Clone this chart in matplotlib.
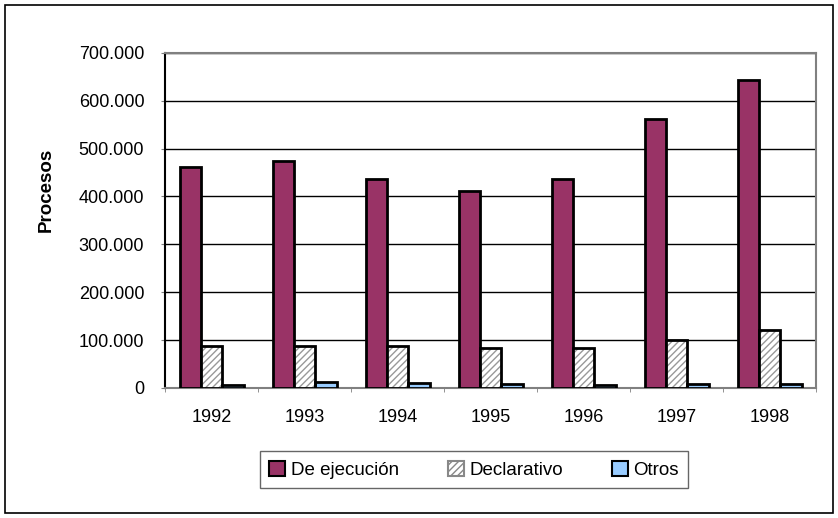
import matplotlib.pyplot as plt
import numpy as np
from matplotlib.patches import Patch, Rectangle
from matplotlib.ticker import FuncFormatter, MultipleLocator

plt.rcParams['font.family'] = ['Liberation Sans', 'DejaVu Sans']

# Datos
anios = ['1992', '1993', '1994', '1995', '1996', '1997', '1998']
de_ejecucion = [461000, 475000, 437000, 412000, 437000, 562000, 644000]
declarativo = [88000, 88000, 88000, 84000, 83000, 101000, 121000]
otros = [6000, 12000, 10000, 9000, 6000, 9000, 9000]

granate = '#993366'
celeste = '#99CCFF'

fig = plt.figure(figsize=(8.38, 5.18), dpi=100)
ax = fig.add_axes([0.197, 0.251, 0.777, 0.647])

x = np.arange(len(anios))
w = 0.23

ax.bar(x - w, de_ejecucion, w, color=granate, edgecolor='black', linewidth=2, zorder=3)
# barras rayadas: primero el rayado gris, luego el borde negro
ax.bar(x, declarativo, w, color='white', edgecolor='#999999', hatch='/////', linewidth=0, zorder=3)
ax.bar(x, declarativo, w, color='none', edgecolor='black', linewidth=2, zorder=4)
ax.bar(x + w, otros, w, color=celeste, edgecolor='black', linewidth=2, zorder=3)

ax.set_xlim(-0.5, len(anios) - 0.5)
ax.set_ylim(0, 700000)
ax.yaxis.set_major_locator(MultipleLocator(100000))
ax.yaxis.set_major_formatter(FuncFormatter(lambda v, p: f'{int(v):,}'.replace(',', '.')))
ax.grid(axis='y', color='black', linewidth=1, zorder=0)

ax.set_xticks(x)
ax.set_xticklabels(anios)
ax.set_xticks(np.arange(len(anios) + 1) - 0.5, minor=True)
ax.tick_params(axis='x', which='major', length=0, pad=15, labelsize=13)
ax.tick_params(axis='x', which='minor', length=3, color='#808080')
ax.tick_params(axis='y', length=3, color='#808080', pad=12, labelsize=13)

for s in ['top', 'right', 'bottom']:
    ax.spines[s].set_color('#808080')
    ax.spines[s].set_linewidth(1.5)
ax.spines['left'].set_color('black')
ax.spines['left'].set_linewidth(1.5)

ax.set_ylabel('Procesos', fontsize=13.5, fontweight='bold')
ax.yaxis.set_label_coords(-0.169, 0.59)

handles = [
    Patch(facecolor=granate, edgecolor='black', linewidth=1.5),
    Patch(facecolor='white', edgecolor='#888888', hatch='/////', linewidth=1.5),
    Patch(facecolor=celeste, edgecolor='black', linewidth=1.5),
]
leg = fig.legend(handles, ['De ejecución', 'Declarativo', 'Otros'], ncol=3,
                 loc='lower left', bbox_to_anchor=(260 / 838, 30 / 518),
                 fontsize=13.5, frameon=True, fancybox=False, edgecolor='#404040',
                 handlelength=0.85, handleheight=0.85, handletextpad=0.3,
                 columnspacing=2.6, borderpad=0.5, borderaxespad=0)
leg.get_frame().set_linewidth(1)

# marco exterior
fig.patches.append(Rectangle((0.006, 0.01), 0.988, 0.98, transform=fig.transFigure,
                             fill=False, edgecolor='black', linewidth=1.2))

fig.savefig('out.png', dpi=100)
